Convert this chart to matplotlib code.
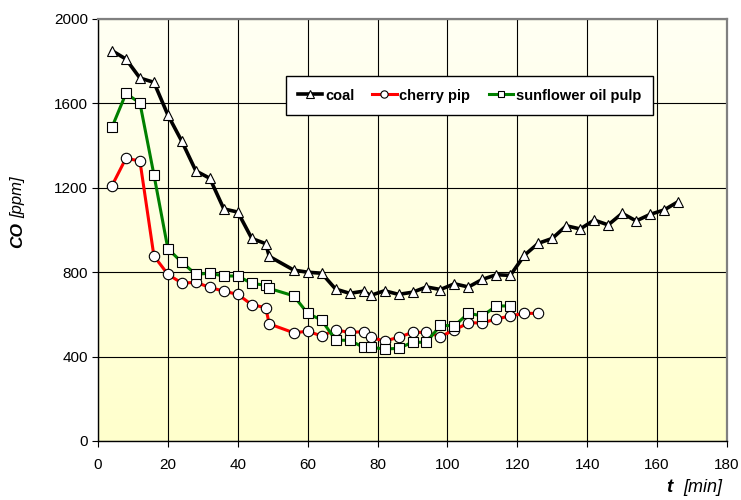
import numpy as np
import matplotlib
matplotlib.use("Agg")
import matplotlib.pyplot as plt
from matplotlib.colors import LinearSegmentedColormap

plt.rcParams["font.family"] = ["Liberation Sans", "DejaVu Sans"]

# ---------------------------------------------------------------------------
# data (t in min, CO in ppm)
# ---------------------------------------------------------------------------
coal_t = [4, 8, 12, 16, 20, 24, 28, 32, 36, 40, 44, 48, 49, 56, 60, 64, 68, 72, 76, 78,
          82, 86, 90, 94, 98, 102, 106, 110, 114, 118, 122, 126, 130, 134, 138, 142,
          146, 150, 154, 158, 162, 166]
coal_co = [1850, 1810, 1720, 1700, 1545, 1420, 1280, 1245, 1100, 1085, 960, 935, 875,
           810, 800, 795, 720, 700, 710, 690, 712, 695, 705, 730, 718, 745, 730, 766,
           788, 785, 880, 937, 960, 1020, 1005, 1047, 1024, 1079, 1043, 1074, 1095, 1134]

cherry_t = [4, 8, 12, 16, 20, 24, 28, 32, 36, 40, 44, 48, 49, 56, 60, 64, 68, 72, 76, 78,
            82, 86, 90, 94, 98, 102, 106, 110, 114, 118, 122, 126]
cherry_co = [1210, 1340, 1327, 877, 790, 748, 752, 728, 710, 695, 646, 632, 555, 513,
             520, 498, 526, 515, 518, 491, 474, 491, 515, 515, 495, 526, 560, 560, 578,
             593, 605, 605]

sun_t = [4, 8, 12, 16, 20, 24, 28, 32, 36, 40, 44, 48, 49, 56, 60, 64, 68, 72, 76, 78,
         82, 86, 90, 94, 98, 102, 106, 110, 114, 118]
sun_co = [1487, 1647, 1602, 1262, 911, 847, 790, 795, 782, 782, 747, 738, 723, 688, 605,
          573, 478, 477, 444, 444, 436, 439, 468, 468, 548, 546, 605, 593, 640, 640]

x_ticks = list(range(0, 181, 20))
y_ticks = list(range(0, 2001, 400))

# ---------------------------------------------------------------------------
fig = plt.figure(figsize=(7.41, 5.0), dpi=100)
ax = fig.add_axes([98 / 741, 1 - 441 / 500, (727 - 98) / 741, (441 - 19) / 500])

# pale yellow gradient background (lighter at the top)
grad = LinearSegmentedColormap.from_list("bg", ["#FFFFCC", "#FFFFF4"])
ax.imshow(np.linspace(0, 1, 256)[:, None], cmap=grad, origin="lower",
          extent=[0, 1, 0, 1], transform=ax.transAxes, aspect="auto", zorder=0)

ax.plot(coal_t, coal_co, color="black", lw=2.6, marker="^", ms=7.5, mfc="white",
        mec="black", mew=0.8, label="coal", zorder=5)
ax.plot(cherry_t, cherry_co, color="#FF0000", lw=2.2, marker="o", ms=7.5, mfc="white",
        mec="black", mew=0.8, label="cherry pip", zorder=4)
ax.plot(sun_t, sun_co, color="#008000", lw=2.2, marker="s", ms=6.5, mfc="white",
        mec="black", mew=0.8, label="sunflower oil pulp", zorder=4.5)

ax.set_xlim(0, 180)
ax.set_ylim(0, 2000)
ax.set_xticks(x_ticks)
ax.set_yticks(y_ticks)
ax.grid(True, color="black", lw=0.8, zorder=1)
ax.set_axisbelow(True)
ax.tick_params(direction="out", length=4, width=0.8, labelsize=11, pad=3)
ax.tick_params(axis="x", pad=8)
for s in ("left", "bottom"):
    ax.spines[s].set_color("black")
    ax.spines[s].set_linewidth(1.0)
for s in ("top", "right"):
    ax.spines[s].set_color("#808080")
    ax.spines[s].set_linewidth(1.6)

# axis titles: bold-italic symbol + italic unit
fig.text(0.024, 1 - 234.5 / 500, "CO", rotation=90, ha="center", va="center",
         fontsize=12.5, fontweight="bold", fontstyle="italic")
fig.text(0.024, 1 - 197.5 / 500, "[ppm]", rotation=90, ha="center", va="center",
         fontsize=12, fontstyle="italic")
fig.text(0.903, 0.024, "t", ha="center", va="center", fontsize=13.5,
         fontweight="bold", fontstyle="italic")
fig.text(0.949, 0.024, "[min]", ha="center", va="center", fontsize=13,
         fontstyle="italic")

leg = fig.legend(loc="center", bbox_to_anchor=(469.5 / 741, 1 - 95.5 / 500), ncol=3,
                 frameon=True, fancybox=False, edgecolor="black", framealpha=1,
                 handlelength=1.65, handletextpad=0.2, columnspacing=1.25,
                 markerscale=0.7, borderpad=0.85, borderaxespad=0,
                 prop={"weight": "bold", "size": 10.5})
leg.get_frame().set_linewidth(1.0)

fig.savefig("out.png", dpi=100)
